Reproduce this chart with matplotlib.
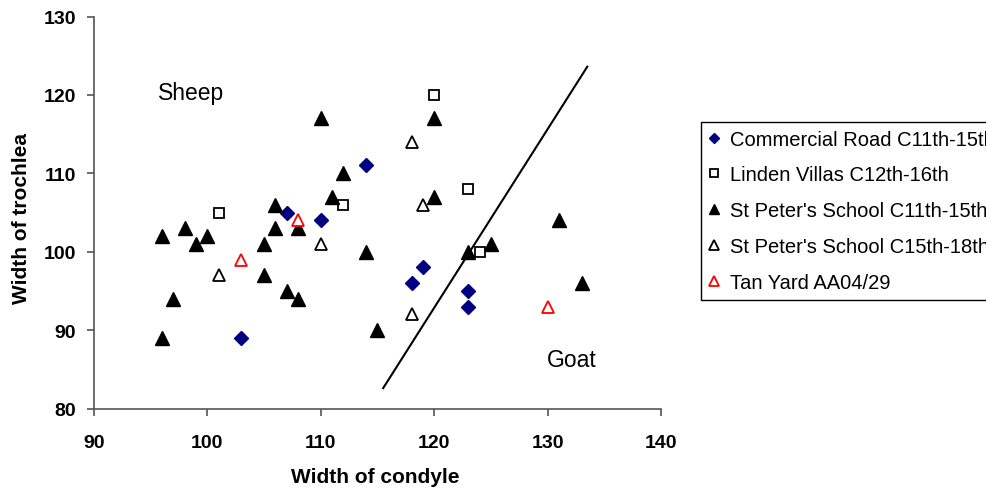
import matplotlib.pyplot as plt

plt.rcParams['font.family'] = ['Liberation Sans', 'DejaVu Sans']

# Commercial Road C11th-15th
cr_x = [103, 107, 110, 114, 118, 119, 123, 123]
cr_y = [89, 105, 104, 111, 96, 98, 95, 93]
# Linden Villas C12th-16th
lv_x = [101, 112, 120, 123, 124]
lv_y = [105, 106, 120, 108, 100]
# St Peter's School C11th-15th
sp1_x = [96, 98, 99, 100, 97, 96, 105, 105, 106, 106, 107, 108, 108,
         110, 112, 111, 114, 115, 120, 120, 123, 125, 131, 133]
sp1_y = [102, 103, 101, 102, 94, 89, 101, 97, 106, 103, 95, 94, 103,
         117, 110, 107, 100, 90, 117, 107, 100, 101, 104, 96]
# St Peter's School C15th-18th
sp2_x = [101, 110, 118, 119, 118]
sp2_y = [97, 101, 114, 106, 92]
# Tan Yard AA04/29
ty_x = [103, 108, 130]
ty_y = [99, 104, 93]

# dividing line sheep / goat
line_x = [115.5, 133.5]
line_y = [82.6, 123.6]

fig = plt.figure(figsize=(9.86, 4.89), dpi=100)
ax = fig.add_axes([94/986, 1-409.5/489, 567/986, 392/489])

ax.plot(line_x, line_y, color='black', lw=1.5, zorder=1)
ax.plot(cr_x, cr_y, 'D', color='#000080', ms=7, ls='none', label='Commercial Road C11th-15th')
ax.plot(lv_x, lv_y, 's', mfc='white', mec='black', mew=1.3, ms=7.5, ls='none', label='Linden Villas C12th-16th')
ax.plot(sp1_x, sp1_y, '^', color='black', ms=10, ls='none', label="St Peter's School C11th-15th")
ax.plot(sp2_x, sp2_y, '^', mfc='white', mec='black', mew=1.3, ms=9, ls='none', label="St Peter's School C15th-18th")
ax.plot(ty_x, ty_y, '^', mfc='white', mec='red', mew=1.3, ms=9, ls='none', label='Tan Yard AA04/29')

ax.text(95.6, 120.3, 'Sheep', fontsize=16.5, va='center', ha='left')
ax.text(129.9, 86.2, 'Goat', fontsize=16.5, va='center', ha='left')

ax.set_xlim(90, 140)
ax.set_ylim(80, 130)
ax.set_xticks(range(90, 141, 10))
ax.set_yticks(range(80, 131, 10))
for s in ['top', 'right']:
    ax.spines[s].set_visible(False)
for s in ['left', 'bottom']:
    ax.spines[s].set_color('#555555')
    ax.spines[s].set_linewidth(1.2)
ax.tick_params(direction='out', length=5, width=1.2, color='#555555', labelsize=14)
ax.tick_params(axis='x', pad=13)
ax.tick_params(axis='y', pad=8)
for lbl in ax.get_xticklabels() + ax.get_yticklabels():
    lbl.set_fontweight('bold')

ax.set_xlabel('Width of condyle', fontsize=15, fontweight='bold', va='center')
ax.xaxis.set_label_coords(0.4956, -0.1747)
ax.set_ylabel('Width of trochlea', fontsize=15, fontweight='bold', va='center',
              ha='center', rotation_mode='anchor')
ax.yaxis.set_label_coords(-0.127, 0.4885)

leg = ax.legend(loc='upper left', bbox_to_anchor=(701/986, 1-122.7/489),
                bbox_transform=fig.transFigure, borderaxespad=0, fancybox=False,
                edgecolor='black', framealpha=1, fontsize=14.5, handlelength=0.5,
                handletextpad=0.55, labelspacing=0.83, borderpad=0.4, markerscale=0.75)
leg.get_frame().set_linewidth(1.0)

fig.savefig('out.png', dpi=100)
